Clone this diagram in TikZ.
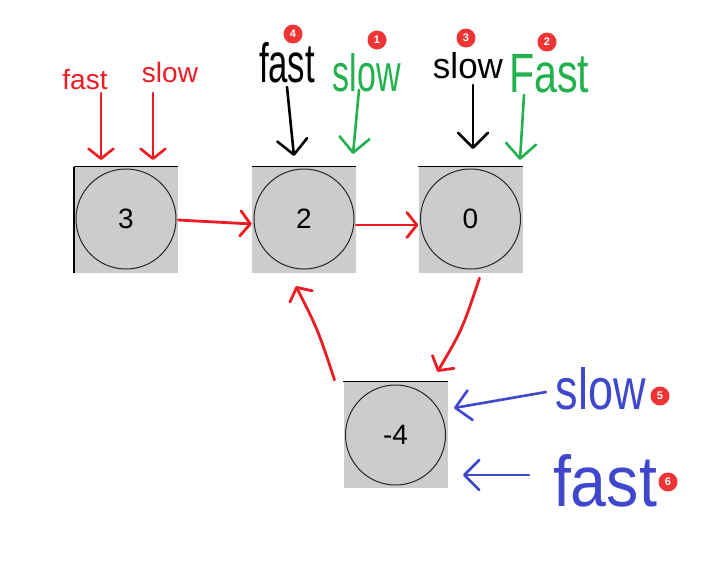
\documentclass[tikz,border=0pt]{standalone}
\usepackage{fontspec}
\setmainfont{Liberation Sans}
\usetikzlibrary{arrows.meta}
\definecolor{pred}{RGB}{237,28,36}
\definecolor{pgreen}{RGB}{34,177,76}
\definecolor{pblue}{RGB}{63,72,204}
\definecolor{boxgray}{RGB}{204,204,204}
\definecolor{badgered}{RGB}{238,52,52}
\begin{document}
\begin{tikzpicture}[x=1pt,y=-1pt,
  box/.style={rectangle,fill=boxgray,minimum width=104pt,minimum height=106pt,inner sep=0pt},
  ring/.style={circle,draw=black!85,line width=1pt,minimum size=100pt,inner sep=0pt,font=\fontsize{28}{28}\selectfont},
  typed/.style={inner sep=0pt,text=pred,font=\fontsize{28}{28}\selectfont},
  hand/.style={inner sep=0pt},
  badge/.style={circle,fill=badgered,minimum size=19pt,inner sep=0pt,text=white,font=\fontsize{11}{11}\selectfont\bfseries},
  arr/.style={line width=2.6pt,line cap=round,line join=round,-{Straight Barb[length=10pt,width=25pt,line cap=round,line join=round]}},
  bigarr/.style={line width=2.6pt,line cap=round,line join=round,-{Straight Barb[length=15pt,width=30pt,line cap=round,line join=round]}},
  linkarr/.style={arr,pred,line width=2.8pt},
]
\useasboundingbox (0,0) rectangle (728,565);
\fill[white] (0,0) rectangle (728,565);

% boxes
\node[box] (b3) at (126,220) {};
\node[box] (b2) at (304,220) {};
\node[box] (b0) at (470.5,220) {};
\node[box] (b4) at (395.5,435) {};
\node[ring] (c3) at (126,219) {3};
\node[ring] (c2) at (304,219) {2};
\node[ring] (c0) at (470.5,219) {0};
\node[ring] (c4) at (395.5,435) {-4};
\foreach \b in {b3,b2,b0,b4}{\draw[line width=1.2pt] (\b.north west) -- (\b.north east);}
\draw[line width=2pt] (b3.north west) -- (b3.south west);

% red links between nodes
\draw[linkarr] (b3.east) -- ([yshift=-4pt]b2.west);
\draw[linkarr] ([yshift=-5pt]b2.east) -- ([yshift=-5pt]b0.west);
\draw[linkarr] ([xshift=9pt,yshift=-5pt]b0.south) .. controls (462,330) .. ([xshift=42pt,yshift=10pt]b4.north);
\draw[linkarr] ([xshift=-61pt,yshift=2pt]b4.north) .. controls (318,330) .. ([xshift=-8pt,yshift=-13pt]b2.south);

% red typed labels
\node[typed] (rf) at (85,80) {fast};
\node[typed] (rs) at (170,72) {slow};
\coordinate (rf1) at (101,93);  \coordinate (rf2) at (101,160);
\coordinate (rs1) at (153,93);  \coordinate (rs2) at (153,160);
\draw[arr,pred] (rf1) -- (rf2);
\draw[arr,pred] (rs1) -- (rs2);

% black fast (4)
\node[hand,text=black] (kf) at (287,63) {\resizebox{56pt}{40pt}{fast}};
\coordinate (kf1) at (287,87); \coordinate (kf2) at (294,156);
\draw[bigarr,black] (kf1) .. controls (290,120) .. (kf2);
\node[badge] (n4) at (293,34) {4};

% green slow (1)
\node[hand,text=pgreen] (gs) at (367,73) {\resizebox{68pt}{38pt}{slow}};
\coordinate (gs1) at (359,90); \coordinate (gs2) at (353,154);
\draw[bigarr,pgreen] (gs1) -- (gs2);
\node[badge] (n1) at (377,40) {1};

% black slow (3)
\node[hand,text=black] (ks) at (468,66) {\resizebox{70pt}{26pt}{slow}};
\coordinate (ks1) at (473,85); \coordinate (ks2) at (473,149);
\draw[bigarr,black] (ks1) -- (ks2);
\node[badge] (n3) at (466,38) {3};

% green Fast (2)
\node[hand,text=pgreen] (gf) at (549,74) {\resizebox{80pt}{38pt}{Fast}};
\coordinate (gf1) at (524,95); \coordinate (gf2) at (520,160);
\draw[bigarr,pgreen] (gf1) -- (gf2);
\node[badge] (n2) at (547,42) {2};

% blue slow (5)
\node[hand,text=pblue] (bs) at (601,389) {\resizebox{90pt}{42pt}{slow}};
\coordinate (bs1) at (546,392); \coordinate (bs2) at (454,408);
\draw[bigarr,pblue] (bs1) -- (bs2);
\node[badge] (n5) at (660,396) {5};

% blue fast (6)
\node[hand,text=pblue] (bf) at (605,481) {\resizebox{104pt}{52pt}{fast}};
\coordinate (bf1) at (529,475); \coordinate (bf2) at (463,475);
\draw[bigarr,pblue] (bf1) -- (bf2);
\node[badge] (n6) at (668,482) {6};
\end{tikzpicture}
\end{document}
